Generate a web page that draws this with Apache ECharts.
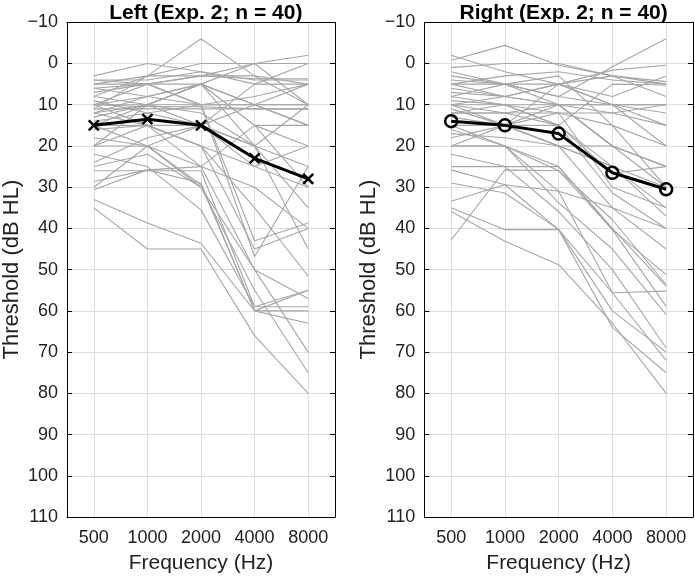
<!DOCTYPE html>
<html><head><meta charset="utf-8">
<script src="https://cdn.jsdelivr.net/npm/echarts@6/dist/echarts.min.js"></script>
<style>html,body{margin:0;padding:0;background:#fff}#c{width:695px;height:579px}</style>
</head><body><div id="c"></div>
<script>
const freqs = ['500','1000','2000','4000','8000'];
const yTicks = {min:-10, max:110, step:10};
const titles = ['Left (Exp. 2; n = 40)', 'Right (Exp. 2; n = 40)'];

const leftLines = [
[8,3,-6,3,10],[10,10,10,10,10],[10,10.5,10.5,11,11],[11,11,11,11,11],[4,4,2,4,4],
[5,3,0,0,0],[6,5,3,0,-2],[3,0,2,5,5],[12,8,5,10,15],[15,10,5,20,45],
[20,15,15,10,5],[26,26,26,59,59],[28.6,25.8,29,60,60],[33,38.7,43.6,60,55],[35,45,45,66,80],
[20,20,30,55,75],[15,15,25,50,70],[10,5,10,43,38.7],[5,5,10,46.8,25],[8,10,5,15,20],
[12,15,20,45,40],[18,20,15,20,35],[22,25,35.5,59,55],[4,5,3,3.7,3.7],[6,8,10,8,5],
[10,8,5,15,30],[14,12,10,10,10],[16,15,20,25,20],[20,10,5,0,10],[10,15,20,35,51.6],
[12,10,12,20,25],[7,5,5,10,15],[30.6,25.8,25,30,40],[9,12,15,5,0],[13,10,15,20,10],
[30,20,29.4,60,63],[25,22,30,50,57],[11,3,3,3,5],[15,20,25,15,15],[24,18,15,25,30]
];
const rightLines = [
[-0.8,-4.4,0.4,3,5],[-2,2,5,3,4.4],[2,5,8,0.8,-6],[5,5,5,1.6,0.4],[5,8,10,10,10],
[8,5,3,15,30],[10,10,10,10,10],[12,12,12,12,10],[10,15,20,25,37],[15,15,15,5,5.2],
[18,15,5,10,20],[20,20,26,40.3,51.2],[25.8,29.4,40.3,55.6,55.2],[29,31.4,40.3,60,70],[35,40.3,40.3,64,75],
[35.9,43.1,48.8,63,80],[42.8,25.8,26,37.9,53.6],[20,20,31,55.6,72],[3,5,10,20,25],[6,8,5,10,15],
[8,10,15,31.4,40],[10,12,10,12,15],[12,10,15,25,30],[14,15,20,20,25],[16,20,33.8,45,60.9],
[5,3,2,4,5],[7,8,5,8,3],[9,10,12,30,35],[11,15,20,35,45],[13,15,10,20,30],
[15,20,25,40.3,58.9],[17,18,20,25,35],[20,15,12,15,20],[22,25,35.9,50,69],[25,25,25,40,54],
[4,5,8,10,12],[1,0,0,3,8],[10,8,10,20,25],[33.4,29.4,31,35,40],[12,12,15,26.6,25]
];
const leftMean = [15,13.5,15,23,28];
const rightMean = [14,15,17,26.5,30.5];

const FONT = '"Liberation Sans", Arial, Helvetica, sans-serif';
const grids = [
  {left:66.7, top:22.3, width:268.3, height:495.4},
  {left:424.3, top:22.3, width:268.7, height:495.4}
];
const xAxes = [], yAxes = [], series = [], titleArr = [];
grids.forEach((g,i)=>{
  xAxes.push({gridIndex:i, type:'category', data:freqs, boundaryGap:true, position:'bottom',
    axisLine:{onZero:false, lineStyle:{color:'#000',width:1}},
    axisTick:{inside:true, alignWithLabel:true, length:5, lineStyle:{color:'#000'}},
    axisLabel:{color:'#222', fontSize:18, fontFamily:FONT, margin:12},
    splitLine:{show:true, alignWithLabel:true, lineStyle:{color:'#dedede',width:1}},
    name:'Frequency (Hz)', nameLocation:'middle', nameGap:36,
    nameTextStyle:{color:'#222', fontSize:21, fontFamily:FONT}});
  xAxes.push({gridIndex:i, type:'category', data:freqs, boundaryGap:true, position:'top',
    axisLine:{onZero:false, lineStyle:{color:'#000',width:1}},
    axisTick:{inside:true, alignWithLabel:true, length:5, lineStyle:{color:'#000'}},
    axisLabel:{show:false}, splitLine:{show:false}});
  yAxes.push({gridIndex:i, type:'value', inverse:true, min:yTicks.min, max:yTicks.max, interval:yTicks.step,
    position:'left',
    axisLine:{show:true, onZero:false, lineStyle:{color:'#000',width:1}},
    axisTick:{show:true, inside:true, length:5, lineStyle:{color:'#000'}},
    axisLabel:{color:'#222', fontSize:18, fontFamily:FONT, margin:9,
      formatter:v=> v<0 ? '\u2212'+Math.abs(v) : String(v)},
    splitLine:{show:true, lineStyle:{color:'#dedede',width:1}},
    name:'Threshold (dB HL)', nameLocation:'middle', nameGap:44,
    nameTextStyle:{color:'#222', fontSize:22, fontFamily:FONT}});
  yAxes.push({gridIndex:i, type:'value', inverse:true, min:yTicks.min, max:yTicks.max, interval:yTicks.step,
    position:'right',
    axisLine:{show:true, onZero:false, lineStyle:{color:'#000',width:1}},
    axisTick:{show:true, inside:true, length:5, lineStyle:{color:'#000'}},
    axisLabel:{show:false}, splitLine:{show:false}});
  titleArr.push({text:titles[i], left:g.left+g.width/2, top:-2, textAlign:'center',
    textStyle:{fontSize:21, fontWeight:'bold', color:'#000', fontFamily:FONT}});
});
function addLines(lines, gi){
  lines.forEach(d=>series.push({type:'line', xAxisIndex:gi*2, yAxisIndex:gi*2, data:d,
    symbol:'none', silent:true, animation:false, z:2,
    lineStyle:{color:'#a6a6a6', width:1.1}}));
}
addLines(leftLines,0); addLines(rightLines,1);
series.push({type:'line', xAxisIndex:0, yAxisIndex:0, data:leftMean, z:5, animation:false,
  symbol:'path://M0,0L10,10M10,0L0,10', symbolSize:10,
  itemStyle:{color:'none', borderColor:'#000', borderWidth:2.5},
  lineStyle:{color:'#000', width:3}});
series.push({type:'line', xAxisIndex:2, yAxisIndex:2, data:rightMean, z:5, animation:false,
  symbol:'circle', symbolSize:12,
  itemStyle:{color:'rgba(0,0,0,0)', borderColor:'#000', borderWidth:2.5},
  lineStyle:{color:'#000', width:3}});

const chart = echarts.init(document.getElementById('c'), null, {renderer:'canvas'});
chart.setOption({animation:false, title:titleArr, grid:grids, xAxis:xAxes, yAxis:yAxes, series});
</script></body></html>
